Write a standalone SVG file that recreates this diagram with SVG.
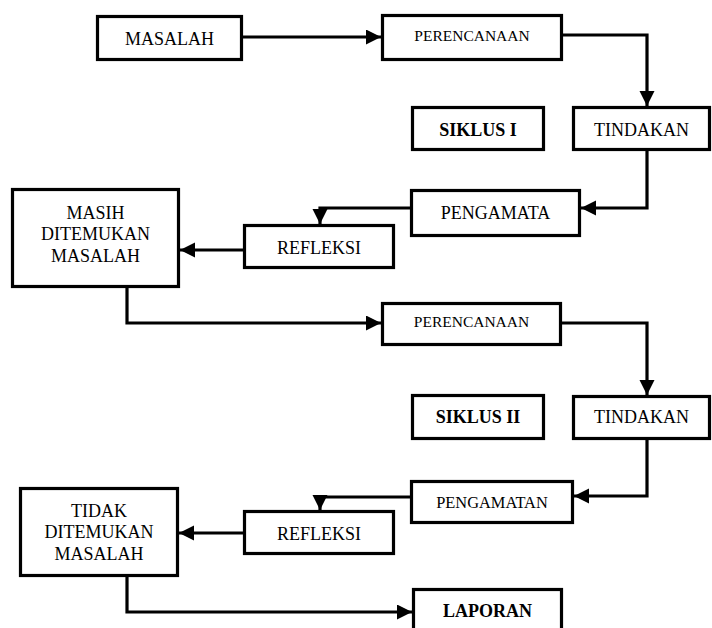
<svg xmlns="http://www.w3.org/2000/svg" width="712" height="628" viewBox="0 0 712 628">
<style>
  .box { fill: #ffffff; stroke: #000000; stroke-width: 3.2; }
  .t { font-family: "Liberation Serif", "Times New Roman", serif; font-size: 18px; fill: #000000; text-anchor: middle; }
  .s { font-size: 15.5px; }
  .s2 { font-size: 16.4px; }
  .b { font-weight: bold; }
  .c { fill: none; stroke: #000000; stroke-width: 3.2; stroke-linejoin: miter; }
</style>
<defs>
  <marker id="arr" markerUnits="userSpaceOnUse" markerWidth="16" markerHeight="16" refX="15" refY="7.5" orient="auto">
    <path d="M0,0 L15,7.5 L0,15 z" fill="#000000"/>
  </marker>
</defs>
<rect width="712" height="628" fill="#ffffff"/>
<g id="connectors">
  <path class="c" d="M243,37 H381" marker-end="url(#arr)"/>
  <path class="c" d="M563,35 H647 V106" marker-end="url(#arr)"/>
  <path class="c" d="M647,151 V208 H581" marker-end="url(#arr)"/>
  <path class="c" d="M410,208 H320 V224" marker-end="url(#arr)"/>
  <path class="c" d="M243,250 H180" marker-end="url(#arr)"/>
  <path class="c" d="M127,288 V323 H381" marker-end="url(#arr)"/>
  <path class="c" d="M562,323 H647 V395" marker-end="url(#arr)"/>
  <path class="c" d="M647,440 V496 H574" marker-end="url(#arr)"/>
  <path class="c" d="M410,497 H320 V510" marker-end="url(#arr)"/>
  <path class="c" d="M243,533 H179" marker-end="url(#arr)"/>
  <path class="c" d="M127,577 V612 H412" marker-end="url(#arr)"/>
</g>
<g id="masalah">
  <rect class="box" x="97.5" y="16.5" width="144" height="43"/>
  <text class="t" x="169.5" y="45">MASALAH</text>
</g>
<g id="perencanaan1">
  <rect class="box" x="382.5" y="15.5" width="179" height="44"/>
  <text class="t s" x="472" y="41">PERENCANAAN</text>
</g>
<g id="siklus1">
  <rect class="box" x="412.5" y="107.5" width="131" height="42"/>
  <text class="t b" x="478" y="136">SIKLUS I</text>
</g>
<g id="tindakan1">
  <rect class="box" x="573.5" y="107.5" width="136" height="42"/>
  <text class="t" x="641.5" y="136">TINDAKAN</text>
</g>
<g id="pengamata">
  <rect class="box" x="411.5" y="190.5" width="168" height="45"/>
  <text class="t" x="495.5" y="219">PENGAMATA</text>
</g>
<g id="refleksi1">
  <rect class="box" x="244.5" y="225.5" width="149" height="42"/>
  <text class="t" x="319" y="254">REFLEKSI</text>
</g>
<g id="masih">
  <rect class="box" x="12.5" y="189.5" width="166" height="97"/>
  <text class="t" x="95.5" y="219">MASIH</text>
  <text class="t" x="95.5" y="240">DITEMUKAN</text>
  <text class="t" x="95.5" y="262">MASALAH</text>
</g>
<g id="perencanaan2">
  <rect class="box" x="382.5" y="303.5" width="178" height="41"/>
  <text class="t s" x="471.5" y="327">PERENCANAAN</text>
</g>
<g id="siklus2">
  <rect class="box" x="412.5" y="395.5" width="131" height="43"/>
  <text class="t b" x="478" y="423">SIKLUS II</text>
</g>
<g id="tindakan2">
  <rect class="box" x="573.5" y="396.5" width="136" height="42"/>
  <text class="t" x="641.5" y="423">TINDAKAN</text>
</g>
<g id="pengamatan">
  <rect class="box" x="411.5" y="481.5" width="161" height="41"/>
  <text class="t s2" x="492" y="508">PENGAMATAN</text>
</g>
<g id="refleksi2">
  <rect class="box" x="244.5" y="511.5" width="149" height="42"/>
  <text class="t" x="319" y="540">REFLEKSI</text>
</g>
<g id="tidak">
  <rect class="box" x="20.5" y="488.5" width="157" height="87"/>
  <text class="t" x="99" y="517">TIDAK</text>
  <text class="t" x="99" y="538">DITEMUKAN</text>
  <text class="t" x="99" y="560">MASALAH</text>
</g>
<g id="laporan">
  <rect class="box" x="413.5" y="589.5" width="148" height="45"/>
  <text class="t b" x="487.5" y="617">LAPORAN</text>
</g>
</svg>
